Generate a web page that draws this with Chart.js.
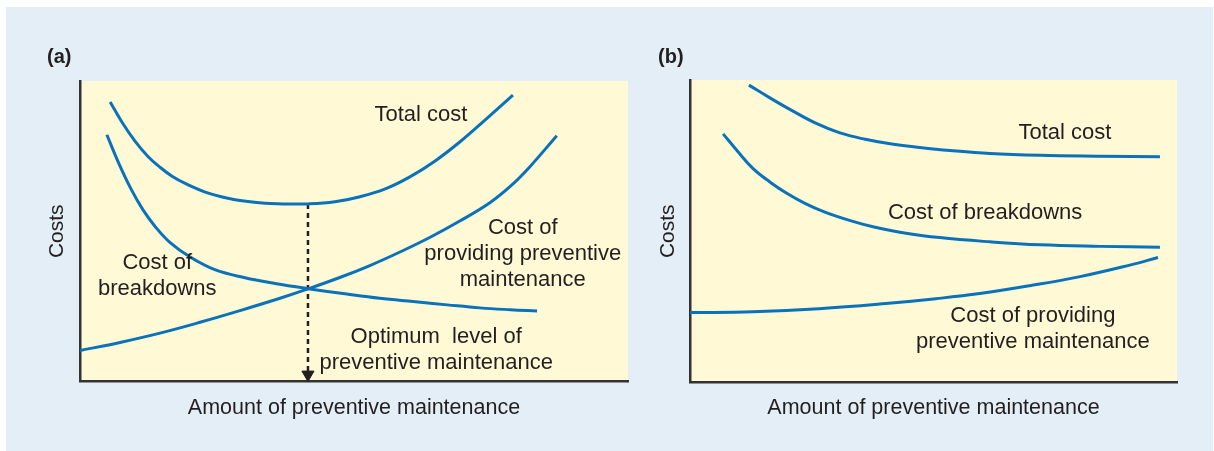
<!DOCTYPE html>
<html>
<head>
<meta charset="utf-8">
<style>
  body { margin: 0; background: #ffffff; }
  #fond { position: absolute; left: 6px; top: 7px; width: 1207px; height: 444px; background: #e3eef6; }
  #chartA { position: absolute; left: 0; top: 0; }
  #chartB { position: absolute; left: 610px; top: 0; }
</style>
</head>
<body>
  <div id="fond"></div>
  <canvas id="chartA" width="650" height="451"></canvas>
  <canvas id="chartB" width="604" height="451"></canvas>

  <script src="https://cdn.jsdelivr.net/npm/chart.js"></script>

  <script>
    // Graphique (a) : valeurs (axes de 0 à 100)
    const totalA_x = [5.5, 7.7, 10.0, 12.4, 14.6, 16.8, 19.2, 23.7, 28.3, 32.8, 37.4, 41.6, 46.5, 51.1, 55.7, 60.2, 64.8, 69.3, 73.9, 79.0];
    const totalA_y = [93.0, 86.2, 80.1, 74.9, 71.3, 68.3, 65.9, 62.5, 60.5, 59.5, 59.1, 59.1, 59.8, 61.5, 64.1, 68.1, 73.4, 79.7, 87.0, 95.3];

    const pannesA_x = [4.9, 7.1, 9.3, 11.5, 13.7, 16.4, 20.1, 24.6, 30.1, 35.6, 41.6, 48.7, 54.7, 60.8, 67.0, 73.0, 78.5, 83.4];
    const pannesA_y = [82.1, 72.5, 64.1, 57.1, 51.6, 46.3, 41.4, 37.2, 34.5, 32.6, 30.9, 29.1, 27.7, 26.6, 25.5, 24.5, 23.9, 23.5];

    const preventionA_x = [0, 7.3, 14.6, 21.9, 29.2, 36.5, 41.6, 47.4, 52.9, 58.4, 63.9, 69.3, 74.8, 78.5, 82.1, 87.0];
    const preventionA_y = [10.3, 13.0, 16.1, 19.7, 23.6, 27.7, 30.8, 34.6, 38.6, 43.1, 48.0, 53.4, 59.5, 64.9, 71.5, 81.8];

    // niveau optimum (flèche en pointillés)
    const optimumA_x = [41.6, 41.6];
    const optimumA_y = [59.1, 2.3];

    // Graphique (b)
    const totalB_x = [12.1, 16.4, 20.5, 25.7, 30.8, 36.0, 41.1, 47.2, 53.4, 61.6, 71.9, 84.2, 96.5];
    const totalB_y = [98.3, 94.1, 90.3, 85.8, 82.5, 80.4, 78.9, 77.7, 76.7, 75.7, 75.1, 74.8, 74.6];

    const pannesB_x = [6.8, 9.9, 12.9, 16.4, 19.7, 23.6, 27.7, 32.9, 38.0, 43.1, 51.3, 61.6, 71.9, 84.2, 96.5];
    const pannesB_y = [82.2, 76.2, 70.8, 66.3, 62.7, 59.2, 56.3, 53.5, 51.3, 49.7, 47.9, 46.5, 45.5, 45.0, 44.7];

    const preventionB_x = [0, 12.9, 26.5, 40.2, 50.5, 59.5, 69.8, 80.1, 90.3, 96.1];
    const preventionB_y = [23.1, 23.4, 24.4, 26.1, 27.7, 29.4, 32.0, 35.0, 38.8, 41.3];

    // Textes des courbes : [lignes, x, y de la première ligne]
    const etiquettesA = [
      [['Total cost'], 62.2, 88.6],
      [['Cost of', 'breakdowns'], 14.1, 39.5],
      [['Cost of', 'providing preventive', 'maintenance'], 80.8, 51.2],
      [['Optimum  level of', 'preventive maintenance'], 65.0, 14.9]
    ];
    const etiquettesB = [
      [['Total cost'], 77.0, 82.5],
      [['Cost of breakdowns'], 60.6, 56.1],
      [['Cost of providing', 'preventive maintenance'], 70.4, 22.1]
    ];

    const bleu = '#0a72ba';
    const texte = '#231f20';
    const police = '"Liberation Sans", Arial, sans-serif';

    function points(xs, ys) {
      return xs.map((x, i) => ({ x: x, y: ys[i] }));
    }

    function courbe(xs, ys) {
      return {
        data: points(xs, ys),
        borderColor: bleu,
        borderWidth: 3,
        pointRadius: 0,
        fill: false,
        tension: 0.4
      };
    }

    // Plugin : fond jaune de la zone du graphique + textes des courbes
    const fondJaune = {
      id: 'fondJaune',
      beforeDraw(chart) {
        const a = chart.chartArea;
        const ctx = chart.ctx;
        ctx.save();
        ctx.fillStyle = '#fff9d6';
        ctx.fillRect(a.left, a.top, a.right - a.left, a.bottom - a.top);
        ctx.restore();
      },
      afterDatasetsDraw(chart) {
        const ctx = chart.ctx;
        const etiquettes = chart.options.plugins.fondJaune.etiquettes;
        ctx.save();
        ctx.fillStyle = texte;
        ctx.font = '22px ' + police;
        ctx.textAlign = 'center';
        ctx.textBaseline = 'middle';
        etiquettes.forEach(e => {
          const px = chart.scales.x.getPixelForValue(e[1]);
          const py = chart.scales.y.getPixelForValue(e[2]);
          e[0].forEach((ligne, i) => ctx.fillText(ligne, px, py + i * 26));
        });
        ctx.restore();
      }
    };

    function config(datasets, titre, etiquettes, padding, yPad, xPad, titrePad) {
      return {
        type: 'line',
        data: { datasets: datasets },
        options: {
          responsive: false,
          animation: false,
          layout: { padding: padding },
          plugins: {
            legend: { display: false },
            tooltip: { enabled: false },
            title: {
              display: true,
              text: titre,
              align: 'start',
              color: texte,
              font: { family: police, size: 20, weight: 'bold', lineHeight: 1 },
              padding: titrePad
            },
            fondJaune: { etiquettes: etiquettes }
          },
          scales: {
            x: {
              type: 'linear',
              min: 0,
              max: 100,
              grid: { display: false, drawTicks: false },
              ticks: { display: false },
              border: { display: true, color: '#333333', width: 2.5 },
              title: {
                display: true,
                text: 'Amount of preventive maintenance',
                color: texte,
                font: { family: police, size: 21.5, lineHeight: 1 },
                padding: xPad
              }
            },
            y: {
              min: 0,
              max: 100,
              grid: { display: false, drawTicks: false },
              ticks: { display: false },
              border: { display: true, color: '#333333', width: 2.5 },
              title: {
                display: true,
                text: 'Costs',
                color: texte,
                font: { family: police, size: 21, lineHeight: 1 },
                padding: yPad
              }
            }
          }
        },
        plugins: [fondJaune]
      };
    }

    // Flèche du niveau optimum
    const optimum = {
      data: points(optimumA_x, optimumA_y),
      borderColor: '#231f20',
      backgroundColor: '#231f20',
      borderWidth: 2.5,
      borderDash: [5, 4],
      pointStyle: 'triangle',
      rotation: 180,
      pointRadius: [0, 7],
      pointBorderWidth: 1,
      fill: false
    };

    const chartA = new Chart(
      document.getElementById('chartA'),
      config(
        [courbe(totalA_x, totalA_y), courbe(pannesA_x, pannesA_y), courbe(preventionA_x, preventionA_y), optimum],
        '(a)', etiquettesA,
        { left: 47, right: 22, top: 0, bottom: 0 },
        { top: 0, bottom: 12 },
        { top: 16, bottom: 32 },
        { top: 47, bottom: 14 }
      )
    );

    const chartB = new Chart(
      document.getElementById('chartB'),
      config(
        [courbe(totalB_x, totalB_y), courbe(pannesB_x, pannesB_y), courbe(preventionB_x, preventionB_y)],
        '(b)', etiquettesB,
        { left: 48, right: 37, top: 0, bottom: 0 },
        { top: 0, bottom: 11 },
        { top: 15, bottom: 32 },
        { top: 47, bottom: 13 }
      )
    );
  </script>
</body>
</html>
